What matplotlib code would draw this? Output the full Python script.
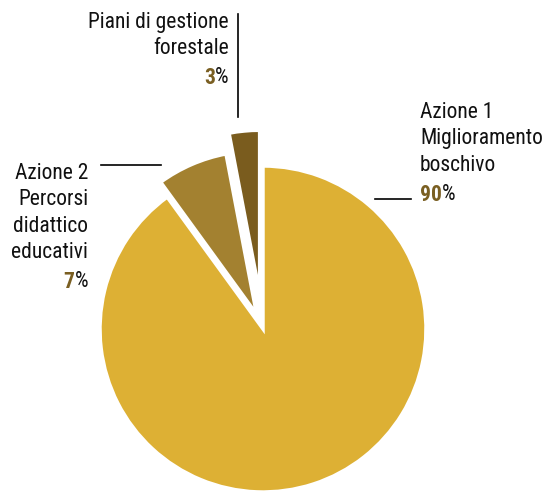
import matplotlib
matplotlib.use('Agg')
import matplotlib.pyplot as plt
from matplotlib import font_manager

# data
labels = ['Azione 1\nMiglioramento\nboschivo', 'Azione 2\nPercorsi\ndidattico\neducativi', 'Piani di gestione\nforestale']
values = [90, 7, 3]
colors = ['#DDB034', '#A38130', '#7A5C1E']
explode = [0, 0.1, 0.22]

# pick a condensed sans that is installed
installed = set(f.name for f in font_manager.fontManager.ttflist)
candidates = ['Roboto Condensed', 'Liberation Sans Narrow', 'Archivo Narrow',
              'PT Sans Narrow', 'Fira Sans Condensed', 'IBM Plex Sans Condensed',
              'Barlow Semi Condensed', 'Open Sans Condensed']
font = next((c for c in candidates if c in installed), 'DejaVu Sans')
plt.rcParams['font.family'] = [font, 'DejaVu Sans']

W, H = 546, 492
fig = plt.figure(figsize=(W / 100, H / 100), dpi=100)
ax = fig.add_axes([0, 0, 1, 1])

# pie centre and radius in pixels (y measured from bottom)
cx, cy, r = 263, H - 329, 163
ax.pie(values, colors=colors, startangle=90, counterclock=False,
       explode=[e * r for e in explode], center=(cx, cy), radius=r,
       wedgeprops=dict(edgecolor='white', linewidth=2.5))
ax.set_xlim(0, W)
ax.set_ylim(0, H)
ax.set_aspect('equal')
ax.axis('off')

num_color = '#7A5F22'
txt_color = '#111111'
fs = 15.5
ls = 1.33

def label(x, y, text, pct, ha):
    t = ax.text(x, H - y, text, ha=ha, va='top', fontsize=fs, linespacing=ls,
                color=txt_color)
    fig.canvas.draw()
    bb = t.get_window_extent()
    ytop = bb.y0 - 8
    if ha == 'left':
        n = ax.text(bb.x0, ytop, str(pct), transform=None, ha='left', va='top',
                    fontsize=fs, fontweight='bold', color=num_color)
        fig.canvas.draw()
        nb = n.get_window_extent()
        ax.text(nb.x1, ytop, '%', transform=None, ha='left', va='top',
                fontsize=fs, color=txt_color)
    else:
        p = ax.text(bb.x1, ytop, '%', transform=None, ha='right', va='top',
                    fontsize=fs, color=txt_color)
        fig.canvas.draw()
        pb = p.get_window_extent()
        ax.text(pb.x0, ytop, str(pct), transform=None, ha='right', va='top',
                fontsize=fs, fontweight='bold', color=num_color)

label(420, 102, labels[0], values[0], 'left')
label(88, 163, labels[1], values[1], 'right')
label(229, 12, labels[2], values[2], 'right')

# leader lines
ax.plot([375, 411], [H - 199, H - 199], color='black', lw=1.2)
ax.plot([101, 161], [H - 165, H - 165], color='black', lw=1.2)
ax.plot([238, 238], [H - 14, H - 117], color='black', lw=1.2)

fig.savefig('out.png', dpi=100)
